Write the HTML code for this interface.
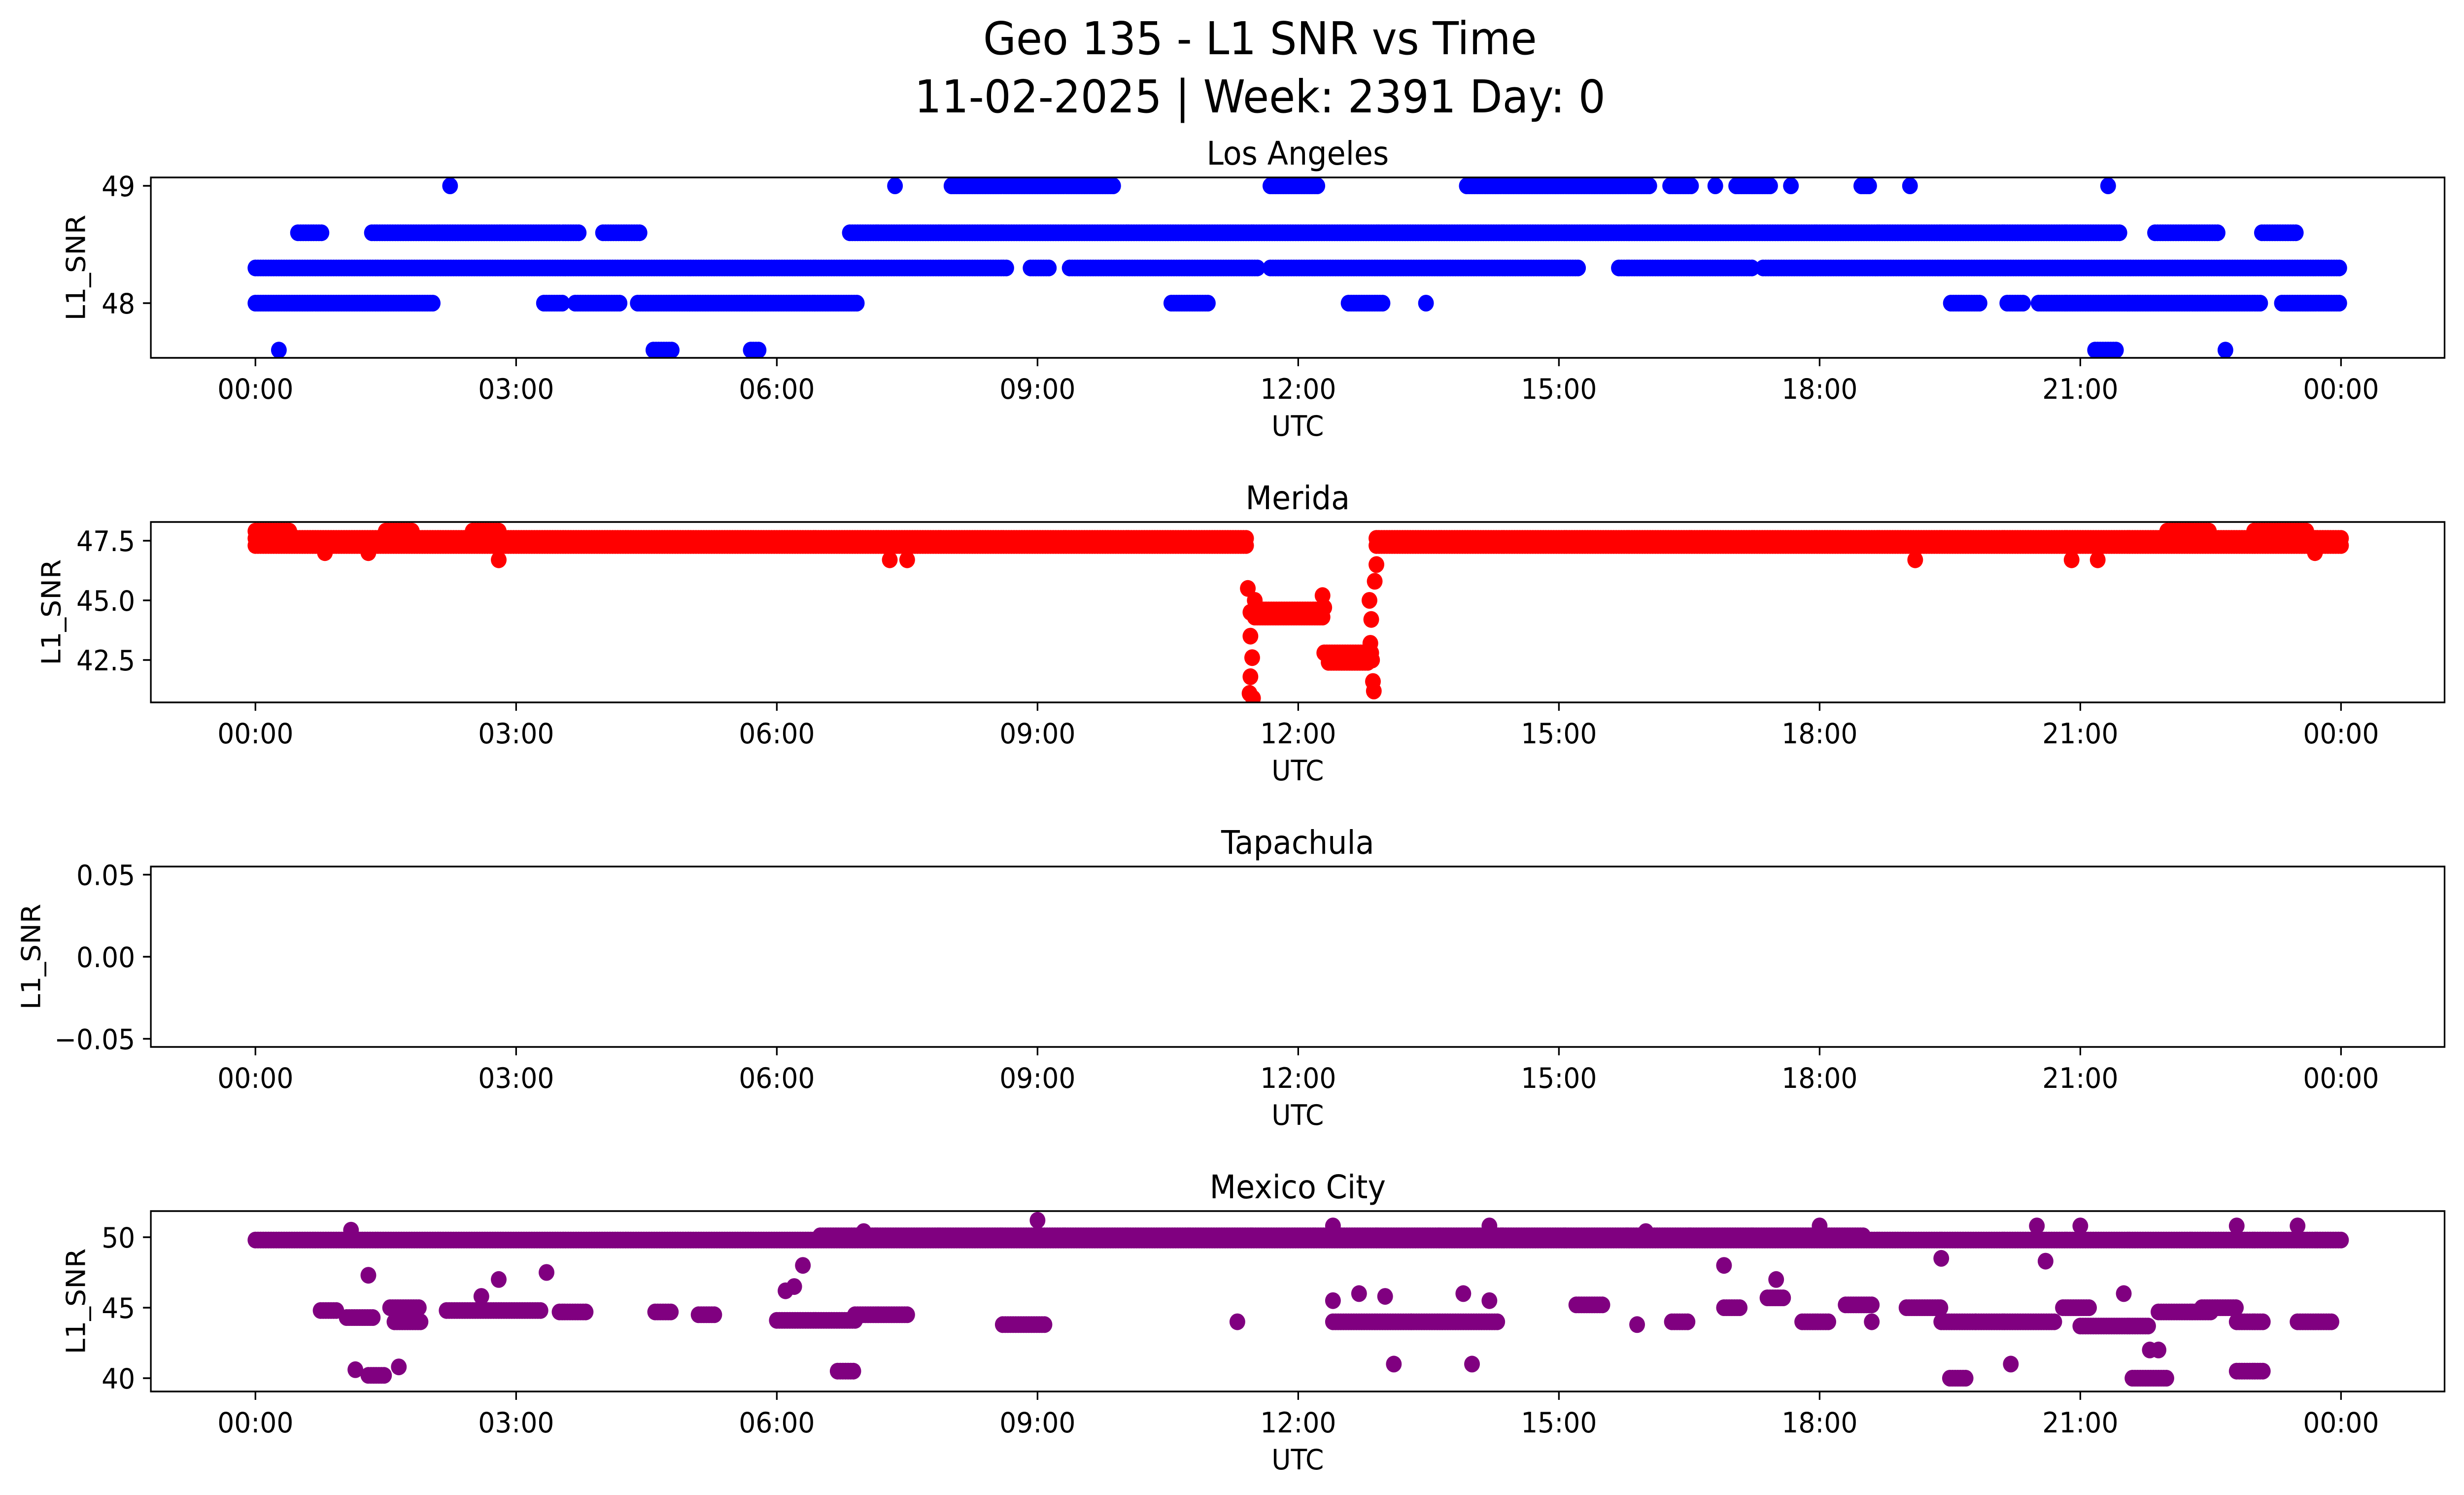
<!DOCTYPE html>
<html><head><meta charset="utf-8">
<style>html,body{margin:0;padding:0;background:#fff;overflow:hidden;width:100%;height:100%;}svg{display:block;position:absolute;left:0;top:0;width:100vw;height:100vh;font-family:"DejaVu Sans","Liberation Sans",sans-serif;}</style>
</head><body>
<svg id="fig" viewBox="0 0 5325 3033" preserveAspectRatio="none" xmlns="http://www.w3.org/2000/svg">
<rect width="5325" height="3033" fill="#fff"/>
<text x="2723" y="110" font-size="92" text-anchor="middle">Geo 135 - L1 SNR vs Time</text>
<text x="2723" y="228" font-size="92" text-anchor="middle">11-02-2025 | Week: 2391 Day: 0</text>
<g id="plots"></g>
</svg>
<script>
// ---- data (hours UTC, SNR values) ----
const xTickLabels = ["00:00","03:00","06:00","09:00","12:00","15:00","18:00","21:00","00:00"];
const xTickHours = [0,3,6,9,12,15,18,21,24];
const stations = ["Los Angeles","Merida","Tapachula","Mexico City"];
const laSegs = [[0,8.65,48.3],[8.92,9.15,48.3],[9.37,11.53,48.3],[11.68,15.23,48.3],[15.69,17.22,48.3],[17.35,24,48.3],
 [0.49,0.76,48.6],[1.34,3.5,48.6],[3.54,3.74,48.6],[4.0,4.44,48.6],[6.84,21.46,48.6],[21.86,22.58,48.6],[23.09,23.48,48.6],
 [0,2.06,48],[3.32,3.54,48],[3.68,4.19,48],[4.4,6.93,48],[10.54,10.96,48],[12.58,12.98,48],[19.51,19.84,48],[20.16,20.34,48],[20.52,23.09,48],[23.32,24,48],
 [8.01,9.87,49],[11.68,12.22,49],[13.94,16.05,49],[16.28,16.53,49],[17.04,17.44,49],[18.48,18.57,49],
 [4.58,4.8,47.6],[5.7,5.81,47.6],[21.17,21.43,47.6]];
const laPts = [[2.24,49],[7.36,49],[16.8,49],[17.67,49],[19.04,49],[21.32,49],[0.27,47.6],[22.67,47.6],[13.47,48]];
const meSegs = [[0,11.4,47.6],[0,11.4,47.3],[12.9,24,47.6],[12.9,24,47.3],[0,0.4,47.9],[1.5,1.8,47.9],[2.5,2.8,47.9],[22,22.5,47.9],[23,23.6,47.9],
 [11.5,12.3,44.3],[11.6,12.2,44.6],[12.3,12.85,42.8],[12.35,12.8,42.4]];
const mePts = [[0.8,47],[1.3,47],[2.8,46.7],[7.3,46.7],[7.5,46.7],[19.1,46.7],[20.9,46.7],[21.2,46.7],[23.7,47],
 [11.42,45.5],[11.45,44.5],[11.45,43.5],[11.47,42.6],[11.45,41.8],[11.44,41.1],[11.48,40.9],[11.5,45],[12.28,45.2],[12.3,44.7],
 [12.83,43.2],[12.85,42.5],[12.86,41.6],[12.87,41.2],[12.82,45],[12.88,45.8],[12.9,46.5],[12.84,44.2]];
const tpSegs = [];
const tpPts = [];
const mxSegs = [[0,24,49.8],[6.5,18.5,50.1],[0.75,0.95,44.8],[1.05,1.35,44.3],[1.3,1.5,40.2],[1.55,1.9,45],[1.6,1.9,44],[2.2,3.3,44.8],[3.5,3.8,44.7],
 [4.6,4.8,44.7],[5.1,5.3,44.5],[6.0,6.9,44.1],[6.7,6.9,40.5],[6.9,7.5,44.5],[8.6,9.1,43.8],[12.4,13.3,44],[13.3,14.3,44],[15.2,15.5,45.2],[16.3,16.5,44],
 [16.9,17.1,45],[17.4,17.6,45.7],[17.8,18.1,44],[18.3,18.6,45.2],[19.0,19.4,45],[19.4,19.8,44],[19.5,19.7,40],[19.8,20.7,44],[20.8,21.1,45],[21.0,21.8,43.7],
 [21.6,22.0,40],[21.9,22.5,44.7],[22.4,22.8,45],[22.8,23.1,44],[22.8,23.1,40.5],[23.5,23.9,44]];
const mxPts = [[1.15,40.6],[1.3,47.3],[1.65,40.8],[2.6,45.8],[2.8,47],[3.35,47.5],[6.1,46.2],[6.3,48],[6.2,46.5],[11.3,44],[12.4,45.5],[12.7,46],[13.0,45.8],
 [13.1,41],[14.0,41],[14.2,45.5],[13.9,46],[15.9,43.8],[16.9,48],[17.5,47],[18.6,44],[19.4,48.5],[20.2,41],[20.6,48.3],[21.5,46],[21.8,42],[21.9,42],
 [1.1,50.5],[9.0,51.2],[12.4,50.8],[14.2,50.8],[18.0,50.8],[20.5,50.8],[21.0,50.8],[22.8,50.8],[23.5,50.8],[7.0,50.4],[16.0,50.4]];
const yTicks = [[49,48],[47.5,45.0,42.5],[0.05,0.00,-0.05],[50,45,40]];
const yTickText = [["49","48"],["47.5","45.0","42.5"],["0.05","0.00","\u22120.05"],["50","45","40"]];
const colors = ["#0000ff","#ff0000","#1f77b4","#800080"];
const allSegs = [laSegs,meSegs,tpSegs,mxSegs];
const allPts = [laPts,mePts,tpPts,mxPts];

// ---- layout / scales ----
const L=326, R=5283, H=366, tops=[360,1059,1758,2457];
const x = h => 552 + h*187.8;
const yFns = [v=>615-(v-48)*238, v=>1218-(v-45)*48.4, v=>1941-v*3330, v=>2653-(v-45)*28.6];
const ylabX = [165,112,68,165];
const NS="http://www.w3.org/2000/svg";
const root=document.getElementById('plots');
function mk(tag,attrs,parent){const e=document.createElementNS(NS,tag);for(const k in attrs)e.setAttribute(k,attrs[k]);parent.appendChild(e);return e;}

stations.forEach((name,i)=>{
  const top=tops[i], bot=top+H, y=yFns[i];
  const g=mk('g',{},root);
  
  
  const t=mk('text',{x:(L+R)/2,y:top-26,'font-size':66,'text-anchor':'middle'},g);
  t.textContent=name;
  
  
  const clip=mk('clipPath',{id:'c'+i},g); mk('rect',{x:L,y:top,width:R-L,height:H},clip);
  const pg=mk('g',{'clip-path':'url(#c'+i+')',fill:colors[i]},g);
  
  
  allSegs[i].forEach(s=>{
    for(let h=s[0];h<=s[1]+1e-9;h+=0.03){
      const c=mk('circle',{cx:x(h).toFixed(1),cy:y(s[2]).toFixed(1),r:17},pg);
      
      
    }
  });
  allPts[i].forEach(p=>{
    const c=mk('circle',{cx:x(p[0]).toFixed(1),cy:y(p[1]).toFixed(1),r:17},pg);
    
    
  });
  const fr=mk('rect',{x:L,y:top,width:R-L,height:H,fill:'none',stroke:'#000','stroke-width':3.5},g);
  
  
  xTickHours.forEach((h,k)=>{
    mk('line',{x1:x(h),x2:x(h),y1:bot,y2:bot+17,stroke:'#000','stroke-width':3.5},g);
    const tl=mk('text',{x:x(h),y:bot+83,'font-size':57,'text-anchor':'middle'},g);
    tl.textContent=xTickLabels[k];
    
    
  });
  yTicks[i].forEach((v,k)=>{
    mk('line',{x1:L-17,x2:L,y1:y(v),y2:y(v),stroke:'#000','stroke-width':3.5},g);
    const tl=mk('text',{x:L-34,y:y(v)+21,'font-size':57,'text-anchor':'end'},g);
    tl.textContent=yTickText[i][k];
    
    
  });
  const xl=mk('text',{x:(L+R)/2,y:bot+158,'font-size':57,'text-anchor':'middle'},g);
  xl.textContent='UTC';
  
  
  const yc=top+H/2;
  const yl=mk('text',{x:ylabX[i],y:yc,'font-size':57,'text-anchor':'middle',transform:'rotate(-90 '+ylabX[i]+' '+yc+')','dominant-baseline':'central'},g);
  yl.textContent='L1_SNR';
  
  
});
</script>
</body></html>
